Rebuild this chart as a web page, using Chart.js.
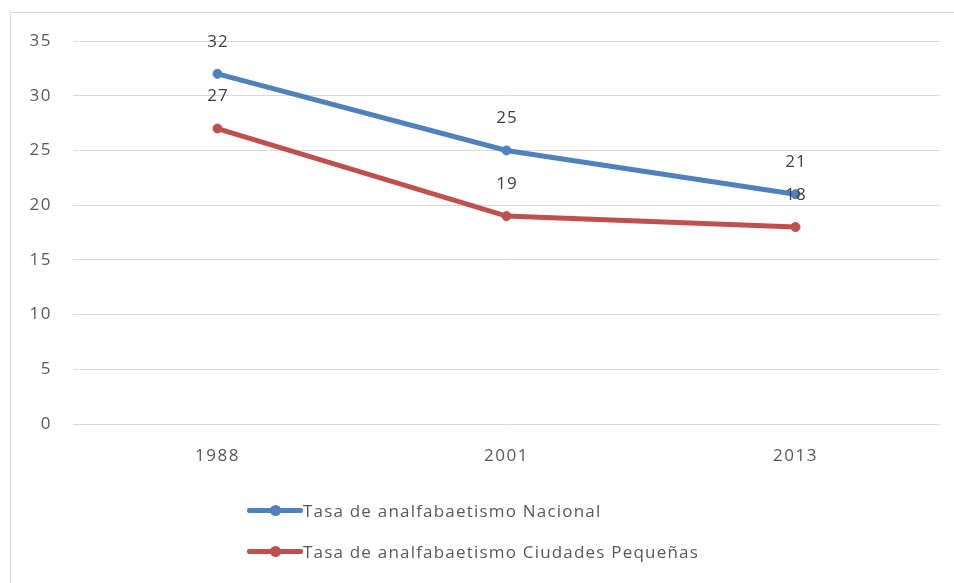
<!DOCTYPE html>
<html>
<head>
<meta charset="utf-8">
<script src="https://cdn.jsdelivr.net/npm/chart.js@4.4.1/dist/chart.umd.min.js"></script>
<style>
  html, body { margin: 0; padding: 0; background: #fff; overflow: hidden; }
  #wrap { position: relative; width: 954px; height: 583px; }
  #frame { position: absolute; left: 10px; top: 12px; width: 1000px; height: 700px; border: 1px solid #d9d9d9; box-sizing: border-box; pointer-events: none; }
  canvas { position: absolute; left: 0; top: 0; }
  #legend { position: absolute; left: 247px; top: 490px; font-family: "Open Sans", sans-serif; font-size: 17px; color: #595959; letter-spacing: 1.2px; }
  .item { position: relative; height: 41px; line-height: 41px; padding-left: 56px; white-space: nowrap; }
  .item .ln { position: absolute; left: 0; top: 18px; width: 56px; height: 5px; border-radius: 2px; }
  .item .dot { position: absolute; left: 23px; top: 15px; width: 11px; height: 11px; border-radius: 50%; }
</style>
</head>
<body>
<div id="wrap">
  <canvas id="c" width="954" height="583"></canvas>
  <div id="frame"></div>
  <div id="legend"></div>
</div>
<script>
const categories = ["1988", "2001", "2013"];
const seriesNames = ["Tasa de analfabaetismo Nacional", "Tasa de analfabaetismo Ciudades Pequeñas"];
const nacional = [32, 25, 21];
const ciudadesPequenas = [27, 19, 18];
const seriesColors = ["#4f81bd", "#c0504d"];

const FONT = "'Open Sans', sans-serif";
const TEXT = "#595959";

const spacing = {
  id: "spacing",
  beforeDraw(chart) { chart.ctx.letterSpacing = "1.5px"; }
};

const dataLabels = {
  id: "dataLabels",
  afterDatasetsDraw(chart) {
    const ctx = chart.ctx;
    ctx.save();
    ctx.letterSpacing = "1px";
    ctx.font = "17px " + FONT;
    ctx.fillStyle = "#404040";
    ctx.textAlign = "center";
    ctx.textBaseline = "middle";
    chart.data.datasets.forEach((ds, i) => {
      const meta = chart.getDatasetMeta(i);
      meta.data.forEach((pt, j) => {
        ctx.fillText(String(ds.data[j]), pt.x + 0.5, pt.y - 32);
      });
    });
    ctx.restore();
  }
};

const chart = new Chart(document.getElementById("c"), {
  type: "line",
  data: {
    labels: categories,
    datasets: [
      { label: seriesNames[0], data: nacional, borderColor: seriesColors[0], backgroundColor: seriesColors[0],
        borderWidth: 5, pointRadius: 4.5, pointHoverRadius: 4.5, pointBorderWidth: 1, tension: 0 },
      { label: seriesNames[1], data: ciudadesPequenas, borderColor: seriesColors[1], backgroundColor: seriesColors[1],
        borderWidth: 5, pointRadius: 4.5, pointHoverRadius: 4.5, pointBorderWidth: 1, tension: 0 }
    ]
  },
  options: {
    responsive: false,
    animation: false,
    devicePixelRatio: 1,
    layout: { padding: { left: 0, right: 14, top: 41, bottom: 99 } },
    plugins: { legend: { display: false }, tooltip: { enabled: false } },
    scales: {
      x: {
        offset: true,
        grid: { display: false, drawTicks: false },
        border: { display: false },
        ticks: { color: TEXT, font: { family: FONT, size: 17 }, padding: 22 },
        afterFit: (s) => { s.height = 60; }
      },
      y: {
        min: 0, max: 35,
        grid: { color: "#d9d9d9", lineWidth: 1, drawTicks: false },
        border: { display: false },
        ticks: { stepSize: 5, color: TEXT, font: { family: FONT, size: 17 }, padding: 21 },
        afterFit: (s) => { s.width = 73; }
      }
    }
  },
  plugins: [spacing, dataLabels]
});

const legend = document.getElementById("legend");
seriesNames.forEach((name, i) => {
  const item = document.createElement("div");
  item.className = "item";
  const ln = document.createElement("span"); ln.className = "ln"; ln.style.background = seriesColors[i];
  const dot = document.createElement("span"); dot.className = "dot"; dot.style.background = seriesColors[i];
  const tx = document.createElement("span"); tx.textContent = name;
  item.appendChild(ln); item.appendChild(dot); item.appendChild(tx);
  legend.appendChild(item);
});
</script>
</body>
</html>
